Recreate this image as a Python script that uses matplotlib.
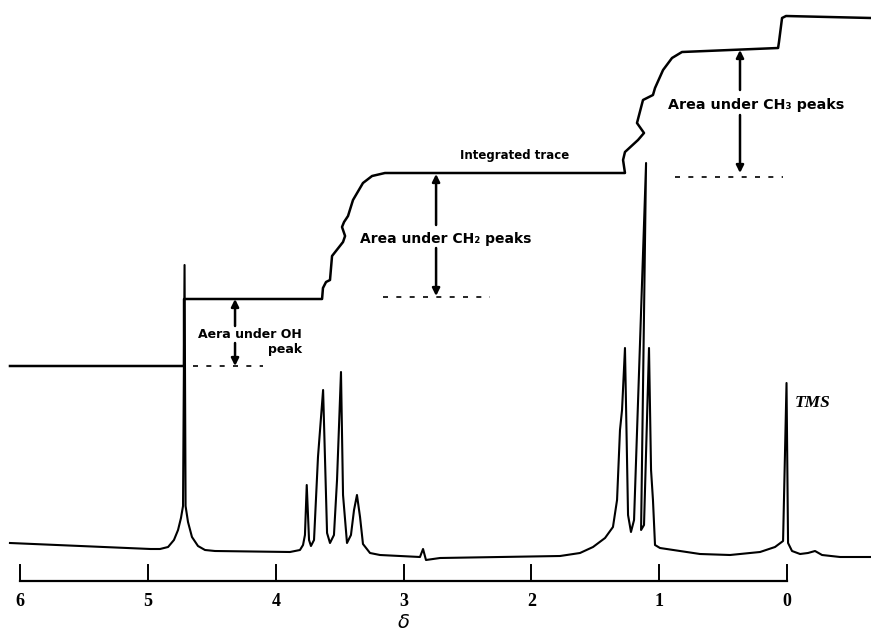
import numpy as np
import matplotlib
matplotlib.use("Agg")
import matplotlib.pyplot as plt

# NMR spectrum of ethanol, chemical shift (delta, ppm) vs. signal height
spec_delta = [6.08, 5.53, 4.98, 4.906, 4.843, 4.797, 4.765, 4.742, 4.726, 4.714, 4.706,
              4.687, 4.656, 4.609, 4.554, 4.476, 3.889,
              3.811, 3.787, 3.772, 3.758, 3.740, 3.725, 3.701, 3.670, 3.630, 3.599, 3.576,
              3.545, 3.521, 3.490, 3.474, 3.443, 3.412, 3.388, 3.365, 3.341, 3.318, 3.263, 3.185,
              2.872, 2.848, 2.825, 2.715, 2.246, 1.776, 1.620, 1.518, 1.424, 1.362, 1.330,
              1.307, 1.291, 1.268, 1.244, 1.221, 1.197, 1.103, 1.142, 1.119, 1.080, 1.064,
              1.049, 1.033, 0.994, 0.681, 0.446, 0.211, 0.094, 0.031, 0.004, -0.008, -0.039,
              -0.102, -0.164, -0.219, -0.274, -0.415, -0.657]
spec_h = [38, 35, 32, 32, 34, 41, 51, 63, 75, 316, 75,
          59, 44, 35, 31, 30, 29,
          31, 36, 46, 96, 41, 35, 41, 124, 191, 48, 38,
          46, 101, 209, 86, 38, 46, 71, 86, 64, 37, 28, 26,
          24, 32, 21, 23, 24, 25, 28, 34, 43, 54, 81,
          151, 171, 233, 66, 49, 61, 418, 51, 56, 233, 111,
          81, 36, 33, 27, 26, 29, 34, 40, 198, 38, 30,
          27, 28, 30, 26, 24, 24]

# integrated trace
int_delta = [6.08, 4.718, 4.718, 3.638, 3.631, 3.607, 3.576, 3.560, 3.474, 3.458, 3.482,
             3.466, 3.435, 3.396, 3.318, 3.247, 3.146, 1.268, 1.283, 1.268, 1.166, 1.119,
             1.174, 1.127, 1.049, 1.033, 0.970, 0.900, 0.822, 0.070, 0.063, 0.039, 0.008, -0.657]
int_h = [215, 215, 282, 282, 293, 299, 301, 325, 339, 345, 354,
         359, 365, 381, 398, 405, 408, 408, 421, 429, 441, 448,
         458, 481, 486, 493, 511, 523, 529, 533, 539, 563, 565, 563]

tick_vals = [6, 5, 4, 3, 2, 1, 0]
tick_labels = ["6", "5", "4", "3", "2", "1", "0"]

fig = plt.figure(figsize=(8.71, 6.34), dpi=100)
ax = fig.add_axes([0, 0, 1, 1])
ax.set_xlim(6.158, -0.657)
ax.set_ylim(-53, 581)
ax.axis("off")

ax.plot(spec_delta, spec_h, color="black", lw=1.5)
ax.plot(int_delta, int_h, color="black", lw=1.8)

# delta scale
ax.plot([6, 0], [0, 0], color="black", lw=1.6)
for v, lab in zip(tick_vals, tick_labels):
    ax.plot([v, v], [0, 16], color="black", lw=1.4)
    ax.text(v, -20, lab, ha="center", va="center", fontsize=13,
            fontweight="bold", family="Liberation Serif")
ax.text(3.0, -41, r"$\delta$", ha="center", va="center", fontsize=14)

fam = ["DejaVu Sans"]
arrow = dict(arrowstyle="-|>", lw=1.8, color="black", mutation_scale=11, shrinkA=0, shrinkB=0)
dots = dict(color="black", lw=1.2, dashes=(3, 5))

# OH peak
ax.annotate("", xy=(4.319, 282), xytext=(4.319, 255), arrowprops=arrow)
ax.annotate("", xy=(4.319, 215), xytext=(4.319, 238), arrowprops=arrow)
ax.plot([4.648, 4.10], [215, 215], **dots)
ax.text(4.609, 239, "Aera under OH\npeak", ha="left", va="center", fontsize=9,
        fontweight="bold", family=fam, multialignment="right", linespacing=1.15)

# CH2 peaks
ax.annotate("", xy=(2.746, 407), xytext=(2.746, 356), arrowprops=arrow)
ax.annotate("", xy=(2.746, 285), xytext=(2.746, 333), arrowprops=arrow)
ax.plot([3.161, 2.324], [284, 284], **dots)
ax.text(3.34, 342, "Area under CH\u2082 peaks", ha="left", va="center", fontsize=10,
        fontweight="bold", family=fam)

ax.text(2.128, 425, "Integrated trace", ha="center", va="center", fontsize=8.5,
        fontweight="bold", family=fam)

# CH3 peaks
ax.annotate("", xy=(0.368, 531), xytext=(0.368, 491), arrowprops=arrow)
ax.annotate("", xy=(0.368, 408), xytext=(0.368, 466), arrowprops=arrow)
ax.plot([0.876, 0.031], [404, 404], **dots)
ax.text(0.93, 476, "Area under CH\u2083 peaks", ha="left", va="center", fontsize=10.3,
        fontweight="bold", family=fam)

ax.text(-0.063, 178, "TMS", ha="left", va="center", fontsize=12.5,
        fontweight="bold", style="italic", family="Liberation Serif")

fig.savefig("out.png", dpi=100)
